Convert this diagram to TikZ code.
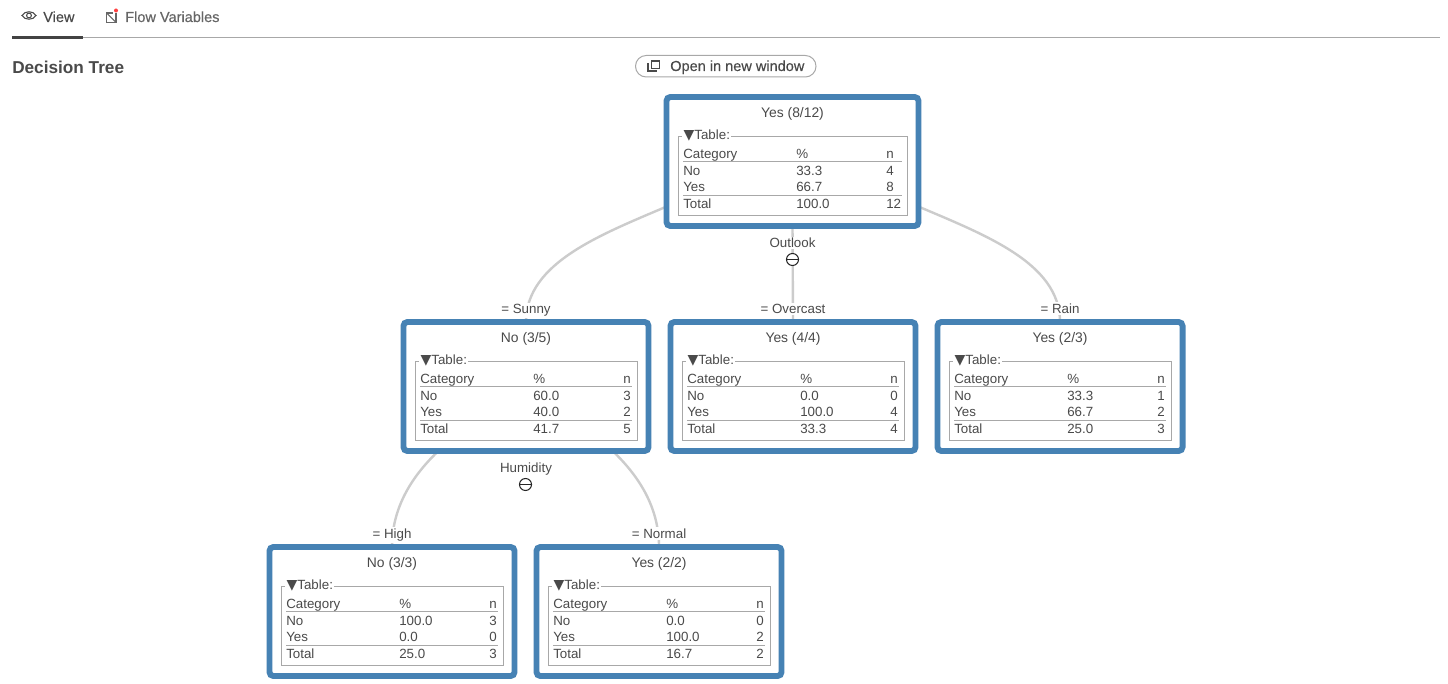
\documentclass[tikz,border=0pt]{standalone}
\usepackage{fontspec}
\setmainfont{Liberation Sans}
\newfontfamily\symfont{DejaVu Sans}
\newfontfamily\medfont[FakeBold=0.3]{Liberation Sans}
\usetikzlibrary{calc}
\pgfdeclarelayer{bg}
\pgfsetlayers{bg,main}
\definecolor{ink}{HTML}{4A4A4A}
\definecolor{blueedge}{HTML}{4682B4}
\definecolor{linkgrey}{HTML}{CCCCCC}
\definecolor{framegrey}{HTML}{A8A8A8}
\definecolor{tabgrey}{HTML}{666666}
\tikzset{
  treebox/.style={draw=blueedge,line width=4.4pt,rounded corners=3pt,fill=white,inner sep=0pt,outer sep=0pt},
  cell/.style={anchor=base west,inner sep=0pt,text=ink,font=\fontsize{10}{12}\selectfont},
  titletext/.style={anchor=base,inner sep=0pt,text=ink,font=\fontsize{10.4}{12}\selectfont},
  edgelabel/.style={anchor=base,fill=white,inner sep=1pt,text=ink,font=\fontsize{10}{12}\selectfont},
  link/.style={draw=linkgrey,line width=1.8pt},
  tableframe/.style={draw=framegrey,line width=0.7pt},
  rowline/.style={draw=framegrey,line width=0.7pt},
}
% #1 name, #2 left, #3 top, #4 width, #5 title
\newcommand{\treebox}[5]{%
  \node[treebox,minimum width={(#4+1-5.9)*0.75pt},minimum height={(135-5.9)*0.75pt}] (#1) at ({#2+#4/2},{#3+66.5}) {};
  \node[titletext] (#1title) at ({#2+#4/2},{#3+22.5}) {#5};
  \draw[tableframe] ({#2+14},{#3+41}) rectangle ({#2+#4-13.5},{#3+120});
  \node[cell,fill=white,inner xsep=1pt] (#1legend) at ({#2+18},{#3+44.6}) {{\symfont\fontsize{10.5}{12}\selectfont ▼}Table:};
  \node[cell] (#1h1) at ({#2+19},{#3+63.6}) {Category};
  \node[cell] (#1h2) at ({#2+132},{#3+63.6}) {\%};
  \node[cell] (#1h3) at ({#2+222},{#3+63.6}) {n};
  \draw[rowline] ({#2+19},{#3+66.3}) -- ({#2+#4-19},{#3+66.3});
  \draw[rowline] ({#2+19},{#3+100}) -- ({#2+#4-19},{#3+100});
  \def\bx{#2}\def\by{#3}\def\bn{#1}%
}
\newcommand{\tablerows}[6]{%
  \node[cell] (\bn a1) at ({\bx+19},{\by+80.6}) {No};
  \node[cell] (\bn a2) at ({\bx+132},{\by+80.6}) {#1};
  \node[cell] (\bn a3) at ({\bx+222},{\by+80.6}) {#2};
  \node[cell] (\bn b1) at ({\bx+19},{\by+96.6}) {Yes};
  \node[cell] (\bn b2) at ({\bx+132},{\by+96.6}) {#3};
  \node[cell] (\bn b3) at ({\bx+222},{\by+96.6}) {#4};
  \node[cell] (\bn c1) at ({\bx+19},{\by+113.4}) {Total};
  \node[cell] (\bn c2) at ({\bx+132},{\by+113.4}) {#5};
  \node[cell] (\bn c3) at ({\bx+222},{\by+113.4}) {#6};
}
\begin{document}
\begin{tikzpicture}[x=0.75pt,y=-0.75pt]
\begin{pgfonlayer}{bg}
\path[use as bounding box,fill=white] (0,0) rectangle (1448,684);
\end{pgfonlayer}
% tabs
\draw[draw=framegrey,line width=0.75pt] (12,37.5) -- (1440,37.5);
\draw[draw=ink!90!black,line width=2.3pt] (12,37.5) -- (83,37.5);
\draw[ink,line width=0.8pt] (22,15.5) .. controls (25,10.5) and (33,10.5) .. (36,15.5) .. controls (33,20.5) and (25,20.5) .. (22,15.5) -- cycle;
\draw[ink,line width=0.8pt] (29,15.5) circle[radius=2.4];
\node[cell,font=\medfont\fontsize{10.9}{12}\selectfont,text=ink] (viewtab) at (43,22) {View};
\draw[tabgrey,line width=0.8pt] (116,13) -- (116,22.5) -- (106.5,22.5) -- (106.5,13) -- (113,13);
\draw[tabgrey,line width=0.8pt] (106.5,13) -- (116,22.5);
\fill[red!75!white] (116,10.5) circle[radius=2];
\node[cell,font=\medfont\fontsize{10.9}{12}\selectfont,text=tabgrey] (flowtab) at (125,22) {Flow Variables};
\node[cell,font=\bfseries\fontsize{12.9}{15}\selectfont,text=ink] (heading) at (12,73.7) {Decision Tree};
% button
\draw[draw=framegrey,line width=0.75pt,rounded corners=8pt] (635.5,55.5) rectangle (816,77);
\draw[ink,line width=0.8pt] (651.5,61) rectangle (659.5,68.5);
\draw[ink,line width=0.8pt] (648,63.5) -- (648,71) -- (656.5,71);
\node[cell,font=\medfont\fontsize{10.9}{12}\selectfont] (openbtn) at (670,71) {Open in new window};
% boxes
\treebox{root}{664}{95}{257}{Yes (8/12)}\tablerows{33.3}{4}{66.7}{8}{100.0}{12}
\treebox{sunny}{401}{320}{250}{No (3/5)}\tablerows{60.0}{3}{40.0}{2}{41.7}{5}
\treebox{overcast}{668}{320}{250}{Yes (4/4)}\tablerows{0.0}{0}{100.0}{4}{33.3}{4}
\treebox{rain}{935}{320}{250}{Yes (2/3)}\tablerows{33.3}{1}{66.7}{2}{25.0}{3}
\treebox{high}{267}{545}{250}{No (3/3)}\tablerows{100.0}{3}{0.0}{0}{25.0}{3}
\treebox{normal}{534}{545}{250}{Yes (2/2)}\tablerows{0.0}{0}{100.0}{2}{16.7}{2}
% edge labels
\node[edgelabel] (lsunny) at ([yshift=6.4pt]sunny.north) {= Sunny};
\node[edgelabel] (lovercast) at ([yshift=6.4pt]overcast.north) {= Overcast};
\node[edgelabel] (lrain) at ([yshift=6.4pt]rain.north) {= Rain};
\node[edgelabel] (lhigh) at ([yshift=6.4pt]high.north) {= High};
\node[edgelabel] (lnormal) at ([yshift=6.4pt]normal.north) {= Normal};
\node[edgelabel] (loutlook) at (792.5,247.6) {Outlook};
\node[edgelabel] (lhumidity) at (526,472.6) {Humidity};
\node[draw=black!85,fill=white,circle,line width=0.8pt,minimum size=9pt,inner sep=0pt] (toggleA) at (792.5,259.5) {};
\draw[black!85,line width=0.8pt] (toggleA.west) -- (toggleA.east);
\node[draw=black!85,fill=white,circle,line width=0.8pt,minimum size=9pt,inner sep=0pt] (toggleB) at (525.5,484.5) {};
\draw[black!85,line width=0.8pt] (toggleB.west) -- (toggleB.east);
% connectors
\begin{pgfonlayer}{bg}
\draw[link] ($(root.south west)+(6,-22)$) .. controls +(-70,30) and +(0,-60) .. (sunny.north);
\draw[link] (root.south) -- (overcast.north);
\draw[link] ($(root.south east)+(-6,-22)$) .. controls +(70,30) and +(0,-60) .. (rain.north);
\draw[link] ($(sunny.south west)+(37,-2)$) .. controls +(-28,26) and +(0,-40) .. (high.north);
\draw[link] ($(sunny.south east)+(-38,-2)$) .. controls +(28,26) and +(0,-40) .. (normal.north);
\end{pgfonlayer}
\end{tikzpicture}
\end{document}
